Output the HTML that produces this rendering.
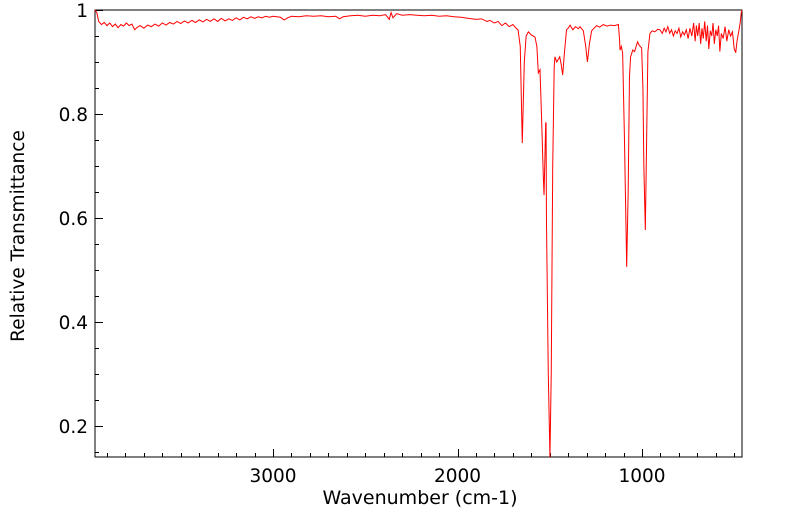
<!DOCTYPE html>
<html><head><meta charset="utf-8"><style>
html,body{margin:0;padding:0;background:#fff;}
svg{display:block;font-family:"DejaVu Sans","Liberation Sans",sans-serif;}
</style></head><body>
<svg id="chart" width="799" height="516" viewBox="0 0 799 516">
<rect x="95" y="10" width="647" height="447" fill="#fff" stroke="#000" stroke-width="1"/>
<g id="ticks"></g>
<path id="series" fill="none" stroke="#ff0000" stroke-width="1"/>
<text x="420" y="504" text-anchor="middle" font-size="19">Wavenumber (cm-1)</text>
<text transform="translate(24,236) rotate(-90)" text-anchor="middle" font-size="18.5">Relative Transmittance</text>
</svg>
<script>
const wavenumbers=[3965,3955,3945,3930,3915,3900,3885,3870,3855,3840,3825,3810,3795,3780,3765,3750,3735,3720,3700,3680,3660,3640,3620,3600,3580,3560,3540,3520,3500,3480,3460,3440,3420,3400,3380,3360,3340,3320,3300,3280,3260,3240,3220,3200,3180,3160,3140,3120,3100,3080,3060,3040,3020,3000,2980,2960,2940,2920,2900,2860,2820,2780,2740,2700,2660,2640,2620,2580,2540,2500,2460,2420,2390,2370,2360,2350,2330,2300,2260,2220,2180,2140,2100,2060,2020,1980,1940,1900,1870,1840,1824,1800,1780,1760,1740,1720,1700,1680,1672,1660,1649,1638,1628,1616,1600,1580,1570,1562,1553,1545,1535,1531,1526,1522,1520,1518,1508,1499,1492,1484,1476,1472,1462,1454,1446,1438,1430,1420,1409,1400,1390,1375,1360,1345,1336,1318,1305,1296,1285,1273,1260,1246,1230,1210,1190,1170,1150,1128,1122,1119,1112,1105,1095,1083,1075,1068,1062,1050,1040,1032,1024,1015,1002,995,990,982,975,968,957,945,930,915,903,890,880,870,860,850,840,830,820,810,800,790,780,770,760,750,740,730,720,712,705,698,690,682,675,668,660,652,645,638,630,622,615,608,600,592,585,578,570,560,550,540,530,520,510,500,492,485,475,468,462,458];
const transmittance=[1.0,0.995,0.978,0.972,0.976,0.97,0.975,0.968,0.973,0.966,0.972,0.969,0.975,0.97,0.973,0.962,0.967,0.97,0.965,0.971,0.968,0.973,0.969,0.975,0.971,0.976,0.973,0.978,0.974,0.979,0.975,0.98,0.976,0.981,0.977,0.982,0.978,0.983,0.978,0.984,0.979,0.983,0.98,0.985,0.981,0.986,0.983,0.987,0.984,0.987,0.985,0.988,0.986,0.988,0.987,0.986,0.981,0.985,0.988,0.987,0.989,0.988,0.989,0.987,0.988,0.983,0.987,0.989,0.99,0.988,0.99,0.989,0.991,0.982,0.995,0.985,0.993,0.99,0.991,0.99,0.989,0.99,0.988,0.989,0.987,0.986,0.984,0.982,0.983,0.978,0.98,0.975,0.978,0.97,0.975,0.968,0.972,0.964,0.962,0.93,0.744,0.9,0.95,0.958,0.952,0.948,0.93,0.879,0.885,0.8,0.68,0.644,0.72,0.783,0.783,0.6,0.3,0.14,0.3,0.7,0.89,0.91,0.9,0.905,0.91,0.895,0.875,0.92,0.962,0.965,0.971,0.962,0.968,0.964,0.968,0.96,0.93,0.9,0.935,0.96,0.965,0.97,0.967,0.972,0.969,0.971,0.97,0.972,0.945,0.923,0.93,0.917,0.75,0.506,0.65,0.87,0.91,0.923,0.92,0.93,0.939,0.932,0.927,0.85,0.7,0.577,0.75,0.92,0.955,0.96,0.958,0.963,0.962,0.955,0.965,0.958,0.968,0.955,0.962,0.95,0.96,0.955,0.965,0.948,0.958,0.952,0.962,0.945,0.965,0.95,0.975,0.94,0.97,0.95,0.975,0.935,0.965,0.945,0.978,0.94,0.97,0.925,0.96,0.95,0.975,0.935,0.962,0.95,0.97,0.92,0.955,0.945,0.968,0.94,0.962,0.95,0.958,0.925,0.918,0.94,0.96,0.975,0.995,1.0];
const xMajorTicks=[3000,2000,1000];
const xTickLabels=["3000","2000","1000"];
const yMajorTicks=[1,0.8,0.6,0.4,0.2];
const yTickLabels=["1","0.8","0.6","0.4","0.2"];

const L=95,R=742,T=10,B=457;
const wnLeft=3965,wnRight=458,tTop=1.0,tBot=0.1404;
function xs(w){return L+(wnLeft-w)/(wnLeft-wnRight)*(R-L);}
function ys(v){return T+(tTop-v)/(tTop-tBot)*(B-T);}
const NS="http://www.w3.org/2000/svg";
const g=document.getElementById('ticks');
function line(x1,y1,x2,y2,name){const l=document.createElementNS(NS,'line');
l.setAttribute('x1',x1);l.setAttribute('y1',y1);l.setAttribute('x2',x2);l.setAttribute('y2',y2);
l.setAttribute('stroke','#000');l.setAttribute('stroke-width','1');


g.appendChild(l);}
function text(x,y,s,anchor,name){const t=document.createElementNS(NS,'text');
t.setAttribute('x',x);t.setAttribute('y',y);t.setAttribute('text-anchor',anchor);t.setAttribute('font-size','18.5');t.textContent=s;


g.appendChild(t);}
for(let w=500;w<=3900;w+=100){const x=Math.round(xs(w))+0.5;const major=(w%1000===0);line(x,B,x,B-(major?8:4),'x-tick');}
xMajorTicks.forEach((w,i)=>text(xs(w),482,xTickLabels[i],'middle','x-tick-label'));
for(let k=0;k<=17;k++){const v=1-k*0.05;if(v<tBot)break;const y=Math.round(ys(v))+0.5;const major=Math.abs((v*10)%2)<0.01||Math.abs((v*10)%2-2)<0.01;line(L,y,L+(major?8:4),y,'y-tick');}
yMajorTicks.forEach((v,i)=>text(88,ys(v)+7,yTickLabels[i],'end','y-tick-label'));
let d='';
wavenumbers.forEach((w,i)=>{d+=(i?'L':'M')+xs(w).toFixed(2)+','+ys(transmittance[i]).toFixed(2);});
document.getElementById('series').setAttribute('d',d);
</script>
</body></html>
